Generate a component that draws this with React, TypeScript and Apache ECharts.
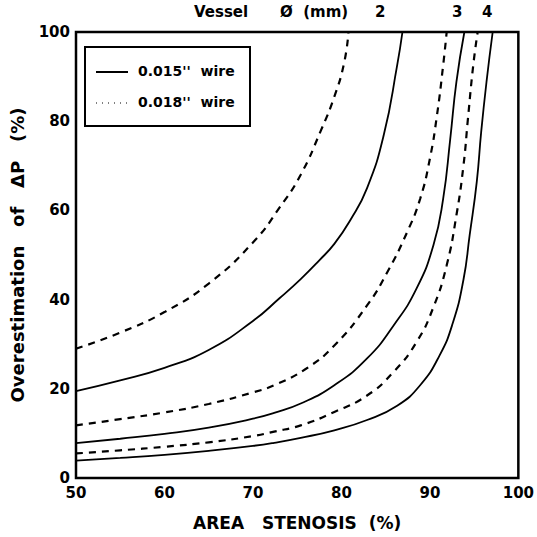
import React, { useEffect, useRef } from "react";
import * as echarts from "echarts";

const xTicks = [50, 60, 70, 80, 90, 100];
const yTicks = [0, 20, 40, 60, 80, 100];
const vesselLabels = ["2", "3", "4"];

const solid2mm: [number, number][] = [
  [50, 19.5], [55, 21.9], [60, 24.7], [65, 28.7], [70, 35.2], [73, 40.3], [75.4, 44.6],
  [77.5, 48.8], [79.2, 52.5], [81, 57.8], [82.9, 65], [84.8, 77], [86.3, 92.5], [86.9, 100],
];
const dashed2mm: [number, number][] = [
  [50, 29], [55, 32.6], [60, 37.2], [65, 43.6], [70, 52.8], [73, 60.6], [75.4, 68],
  [77.7, 78], [79.2, 85.5], [80.3, 93], [80.8, 100],
];
const solid3mm: [number, number][] = [
  [50, 7.8], [55, 8.8], [60, 9.9], [65, 11.3], [70, 13.3], [72.4, 14.6], [75.4, 16.7],
  [79.2, 20.8], [82.9, 26.8], [85.9, 34.2], [88.5, 42.5], [90.4, 52.2], [91.5, 62.6],
  [92.3, 76], [93, 88.8], [93.9, 100],
];
const dashed3mm: [number, number][] = [
  [50, 11.8], [55, 13.2], [60, 14.7], [65, 16.6], [70, 19.2], [72.4, 20.8], [76, 24.5],
  [79.2, 29.7], [82.9, 38.7], [85.2, 46.2], [87.4, 55], [88.9, 62.6], [90, 71.6],
  [90.8, 81.3], [91.5, 92.5], [91.9, 100],
];
const solid4mm: [number, number][] = [
  [50, 3.9], [55, 4.5], [60, 5.2], [65, 6.1], [70, 7.2], [72.4, 7.9], [75.4, 9.0],
  [79.2, 10.7], [82.9, 13.0], [86.3, 16.2], [88.9, 20.8], [91.1, 27.5], [92.6, 34.8],
  [93.8, 44.5], [94.5, 54.5], [95.3, 66.4], [95.8, 77.6], [96.4, 88.8], [97.1, 100],
];
const dashed4mm: [number, number][] = [
  [50, 5.5], [55, 6.2], [60, 7.0], [65, 8.0], [70, 9.4], [72.4, 10.4], [75.4, 11.8],
  [79.2, 14.8], [82.9, 18.5], [85.9, 23.8], [88.5, 30.5], [90.4, 38.3], [91.9, 47.7],
  [93, 58.9], [93.8, 70.1], [94.3, 80.5], [94.9, 92.5], [95.4, 100],
];

const FONT = "'DejaVu Sans', 'Liberation Sans', Arial, sans-serif";

export default function App() {
  const ref = useRef<HTMLDivElement>(null);
  useEffect(() => {
    if (!ref.current) return;
    const chart = echarts.init(ref.current, undefined, { renderer: "svg" });
    const line = (data: [number, number][], dashed: boolean) => ({
      type: "line",
      data,
      smooth: 0.5,
      showSymbol: false,
      symbol: "none",
      clip: true,
      lineStyle: {
        color: "#000",
        width: dashed ? 2.2 : 1.8,
        type: dashed ? [7, 6] : "solid",
      },
    });
    const labelStyle = { fontFamily: FONT, fontWeight: "bold", fontSize: 15, fill: "#000" };
    chart.setOption({
      animation: false,
      backgroundColor: "#fff",
      grid: {
        left: 73,
        right: 18,
        top: 32,
        bottom: 59,
        show: true,
        borderColor: "#000",
        borderWidth: 2.5,
      },
      xAxis: {
        type: "value",
        min: 50,
        max: 100,
        interval: 10,
        axisLine: { show: false },
        axisTick: { show: false },
        splitLine: { show: false },
        axisLabel: {
          color: "#000",
          fontFamily: FONT,
          fontWeight: "bold",
          fontSize: 15,
          margin: 7,
          formatter: (v: number) => (xTicks.includes(v) ? String(v) : ""),
        },
        name: "AREA   STENOSIS  (%)",
        nameLocation: "middle",
        nameGap: 36,
        nameTextStyle: { color: "#000", fontFamily: FONT, fontWeight: "bold", fontSize: 17 },
      },
      yAxis: {
        type: "value",
        min: 0,
        max: 100,
        interval: 20,
        axisLine: { show: false },
        axisTick: { show: false },
        splitLine: { show: false },
        axisLabel: {
          color: "#000",
          fontFamily: FONT,
          fontWeight: "bold",
          fontSize: 15,
          margin: 6,
          formatter: (v: number) => (yTicks.includes(v) ? String(v) : ""),
        },
        name: "Overestimation   of   ΔP   (%)",
        nameLocation: "middle",
        nameRotate: 90,
        nameGap: 50,
        nameTextStyle: { color: "#000", fontFamily: FONT, fontWeight: "bold", fontSize: 18 },
      },
      series: [
        line(dashed2mm, true),
        line(solid2mm, false),
        line(dashed3mm, true),
        line(solid3mm, false),
        line(dashed4mm, true),
        line(solid4mm, false),
      ],
      graphic: [
        { type: "text", left: 194, top: 4, style: { ...labelStyle, text: "Vessel" } },
        { type: "text", left: 280, top: 4, style: { ...labelStyle, text: "Ø  (mm)" } },
        { type: "text", left: 375, top: 4, style: { ...labelStyle, text: vesselLabels[0] } },
        { type: "text", left: 452, top: 4, style: { ...labelStyle, text: vesselLabels[1] } },
        { type: "text", left: 482, top: 4, style: { ...labelStyle, text: vesselLabels[2] } },
        {
          type: "rect",
          shape: { x: 85, y: 47, width: 165, height: 79 },
          style: { fill: "#fff", stroke: "#000", lineWidth: 2 },
          z: 10,
        },
        {
          type: "line",
          shape: { x1: 96, y1: 72, x2: 128, y2: 72 },
          style: { stroke: "#000", lineWidth: 2 },
          z: 11,
        },
        {
          type: "line",
          shape: { x1: 96, y1: 103, x2: 128, y2: 103 },
          style: { stroke: "#000", lineWidth: 1, lineDash: [1, 5] },
          z: 11,
        },
        {
          type: "text",
          left: 138,
          top: 64,
          z: 11,
          style: { ...labelStyle, fontSize: 14, text: "0.015''  wire" },
        },
        {
          type: "text",
          left: 138,
          top: 95,
          z: 11,
          style: { ...labelStyle, fontSize: 14, text: "0.018''  wire" },
        },
      ],
    });
    return () => chart.dispose();
  }, []);
  return (
    <div
      ref={ref}
      style={{ position: "fixed", left: 0, top: 0, width: 537, height: 537, background: "#fff" }}
    />
  );
}
